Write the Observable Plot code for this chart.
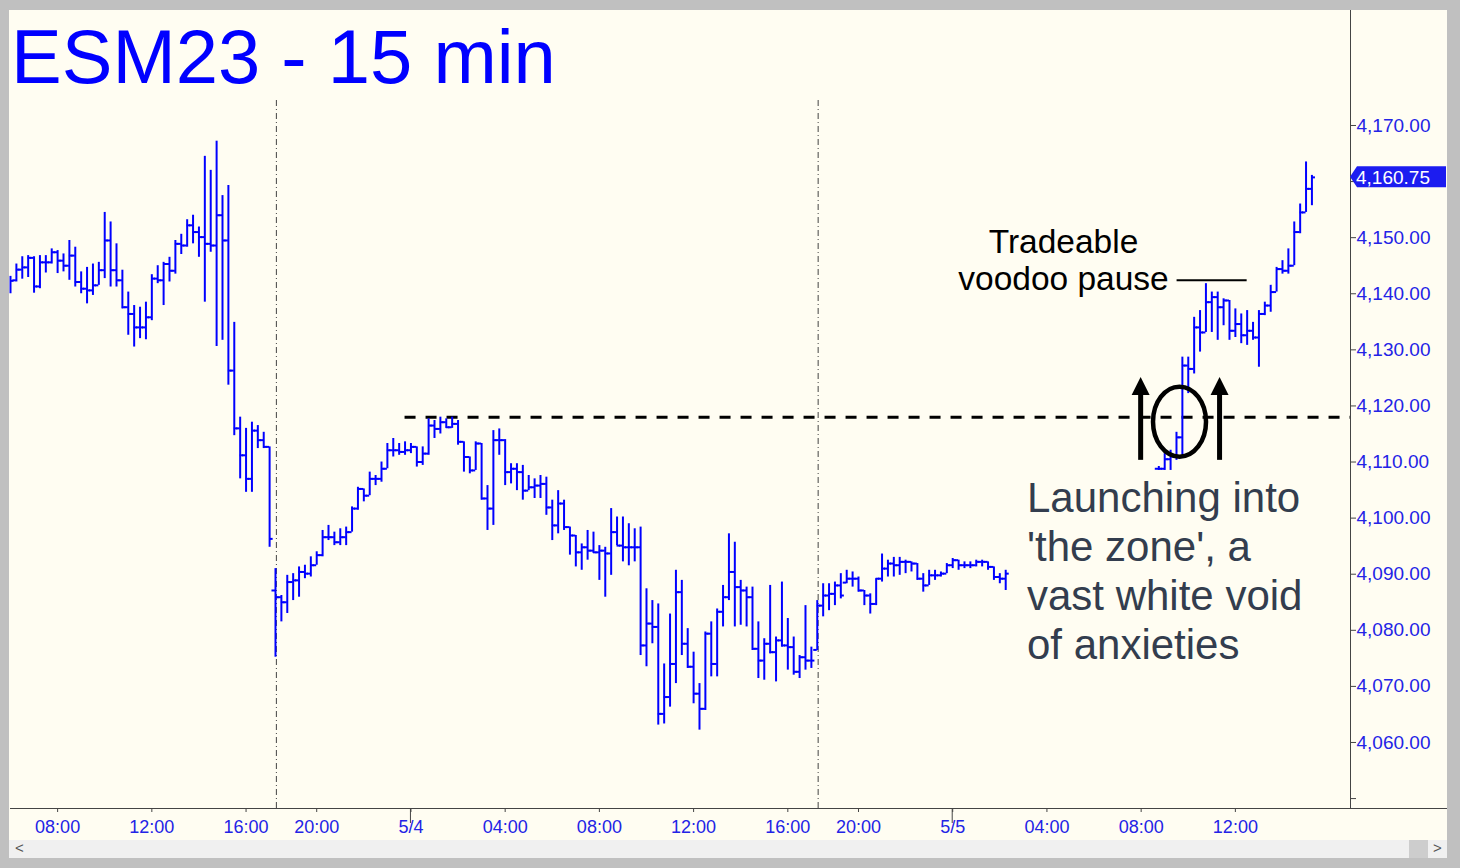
<!DOCTYPE html>
<html>
<head>
<meta charset="utf-8">
<script src="https://cdn.jsdelivr.net/npm/d3@7"></script>
<script src="https://cdn.jsdelivr.net/npm/@observablehq/plot@0.6"></script>
<style>
html, body { margin: 0; padding: 0; background: #c0c0c0; }
#wrap { position: relative; width: 1460px; height: 868px; overflow: hidden; background: #c0c0c0; font-family: "Liberation Sans", Arial, sans-serif; }
#cream { position: absolute; left: 9px; top: 10px; width: 1438px; height: 830px; background: #fffdf2; }
#chart { position: absolute; left: 0; top: 0; }
#scroll { position: absolute; left: 9px; top: 840px; width: 1438px; height: 18px; background: #f0f0f0; }
#scroll .l { position: absolute; left: 6px; top: -1px; font-size: 15px; color: #555; }
#scroll .r { position: absolute; left: 1424px; top: -1px; font-size: 15px; color: #555; }
#scroll .thumb { position: absolute; left: 1400px; top: 0; width: 19px; height: 18px; background: #cdcdcd; }
#chart g[aria-label^="x-axis"] text, #chart g[aria-label^="y-axis"] text { fill: #2323e6; }
#chart g[aria-label^="y-axis"] text { font-size: 19px; }
</style>
</head>
<body>
<div id="wrap">
  <div id="cream"></div>
  <div id="scroll"><span class="l">&lt;</span><div class="thumb"></div><span class="r">&gt;</span></div>
  <div id="chart"></div>
</div>
<script>
// ---- Data: ESM23, 15-minute OHLC bars ----
// x is a trading-time slot: one slot per 15 min, counted from 3 May 06:00,
// with the daily 17:00-18:00 break removed. Bars exist in two runs of slots.
const runStart = [0, 195];
const runLength = [170, 27];

const open = [
  null, 4142.4, 4144.3, 4144.7, 4146.4, 4141.3, 4145.6, 4145.6, 4147.4, 4145.9,
  4145.0, 4146.8, 4142.1, 4140.9, 4140.6, 4141.5, 4144.2, 4149.5, 4144.2, 4142.4,
  4137.6, 4136.4, 4134.0, 4134.0, 4135.8, 4142.7, 4142.4, 4145.3, 4144.1, 4148.9,
  4148.6, 4152.2, 4151.0, 4150.1, 4148.9, 4148.6, 4154.0, 4149.5, 4126.3, 4116.0,
  4111.2, 4107.0, 4115.6, 4113.9, 4112.7, 4087.1, 4085.9, 4085.0, 4088.6, 4088.9,
  4090.4, 4090.1, 4091.6, 4093.4, 4096.6, 4096.6, 4095.7, 4096.6, 4097.5, 4101.7,
  4105.2, 4104.0, 4107.0, 4107.0, 4108.8, 4112.1, 4112.1, 4111.8, 4112.1, 4112.7,
  4110.0, 4111.5, 4116.5, 4115.9, 4117.1, 4116.2, 4116.8, 4113.6, 4110.9, 4108.5,
  4113.3, 4103.5, 4101.7, 4113.9, 4113.9, 4108.2, 4108.8, 4108.2, 4104.9, 4105.5,
  4105.8, 4106.1, 4101.9, 4098.7, 4102.6, 4098.4, 4096.9, 4093.9, 4094.8, 4094.2,
  4093.9, 4094.2, 4093.7, 4097.5, 4095.1, 4094.8, 4094.8, 4094.8, 4077.3, 4081.2,
  4080.6, 4065.1, 4068.1, 4074.0, 4086.8, 4077.6, 4073.5, 4068.7, 4066.0, 4079.4,
  4074.0, 4083.3, 4085.9, 4090.4, 4087.7, 4087.1, 4085.9, 4076.7, 4074.6, 4077.6,
  4076.1, 4078.2, 4077.3, 4077.0, 4072.6, 4075.2, 4074.6, 4076.5, 4084.4, 4086.2,
  4086.5, 4088.0, 4088.5, 4089.2, 4089.2, 4087.1, 4086.2, 4084.7, 4089.2, 4091.0,
  4091.9, 4091.6, 4092.2, 4092.2, 4091.9, 4089.2, 4088.0, 4089.8, 4089.8, 4090.1,
  4091.6, 4092.5, 4091.6, 4091.6, 4091.6, 4092.2, 4092.2, 4091.3, 4089.5, 4089.2,
  4108.8, 4108.8, 4110.5, 4111.0, 4114.4, 4127.2, 4126.6, 4134.0, 4133.1, 4138.5,
  4139.4, 4137.6, 4138.8, 4133.4, 4134.6, 4132.6, 4133.4, 4132.2, 4136.4, 4137.9,
  4140.3, 4144.4, 4144.1, 4145.0, 4151.0, 4154.5, 4158.7
];
const high = [
  4143.1, 4145.3, 4146.6, 4146.8, 4146.6, 4146.8, 4146.8, 4148.0, 4147.7, 4147.1,
  4149.5, 4148.3, 4143.9, 4144.7, 4145.3, 4145.6, 4154.5, 4152.8, 4148.9, 4144.2,
  4140.3, 4137.9, 4137.6, 4138.5, 4143.4, 4145.0, 4145.6, 4146.5, 4149.5, 4150.6,
  4153.2, 4154.0, 4151.9, 4164.5, 4162.0, 4167.2, 4157.5, 4159.3, 4134.9, 4118.0,
  4116.0, 4117.1, 4116.5, 4115.3, 4112.7, 4091.0, 4086.2, 4089.8, 4090.1, 4091.3,
  4091.6, 4093.1, 4094.0, 4097.8, 4098.7, 4097.5, 4098.1, 4098.4, 4102.0, 4105.5,
  4105.2, 4108.2, 4107.6, 4110.0, 4113.3, 4114.2, 4113.3, 4113.6, 4113.3, 4112.7,
  4112.7, 4117.7, 4117.4, 4118.0, 4117.7, 4118.0, 4117.4, 4113.6, 4110.9, 4113.6,
  4113.3, 4105.8, 4115.6, 4115.9, 4114.0, 4109.7, 4109.7, 4109.4, 4107.6, 4107.0,
  4107.6, 4107.3, 4103.2, 4104.9, 4103.2, 4098.4, 4096.9, 4095.4, 4097.8, 4097.5,
  4095.1, 4094.8, 4101.7, 4100.2, 4100.2, 4099.0, 4098.1, 4098.4, 4087.4, 4085.3,
  4084.7, 4074.0, 4082.9, 4090.7, 4088.9, 4080.3, 4076.1, 4070.5, 4079.7, 4081.5,
  4083.8, 4088.0, 4097.2, 4095.7, 4088.9, 4087.7, 4087.7, 4081.5, 4078.5, 4088.0,
  4078.8, 4088.6, 4082.1, 4078.8, 4075.5, 4084.4, 4077.0, 4085.3, 4088.3, 4088.3,
  4088.6, 4090.1, 4090.7, 4090.4, 4089.5, 4087.1, 4086.5, 4089.2, 4093.6, 4092.5,
  4093.0, 4093.0, 4092.5, 4092.2, 4091.9, 4090.1, 4090.7, 4090.7, 4090.4, 4091.9,
  4092.8, 4092.5, 4092.2, 4092.2, 4092.5, 4092.5, 4092.2, 4091.3, 4090.1, 4090.7,
  4109.2, 4111.5, 4112.1, 4115.3, 4128.7, 4128.7, 4135.8, 4137.0, 4141.8, 4140.3,
  4140.3, 4139.1, 4138.8, 4137.3, 4136.4, 4137.0, 4134.9, 4137.0, 4138.5, 4141.5,
  4144.7, 4145.9, 4148.0, 4152.8, 4156.0, 4163.5, 4161.1
];
const low = [
  4140.0, 4142.1, 4142.6, 4142.9, 4140.1, 4140.9, 4143.7, 4145.3, 4143.6, 4143.9,
  4142.4, 4141.2, 4140.0, 4138.2, 4139.7, 4141.5, 4142.7, 4141.2, 4141.2, 4137.3,
  4132.6, 4130.5, 4132.0, 4131.8, 4135.2, 4141.8, 4137.9, 4142.1, 4143.5, 4147.0,
  4148.3, 4148.9, 4146.5, 4138.5, 4147.4, 4130.6, 4131.7, 4123.7, 4114.7, 4107.0,
  4104.6, 4104.6, 4112.4, 4112.4, 4094.8, 4075.2, 4081.5, 4083.0, 4085.3, 4085.9,
  4089.2, 4089.5, 4091.6, 4093.1, 4096.0, 4095.1, 4095.1, 4095.1, 4097.5, 4101.4,
  4102.9, 4104.0, 4105.8, 4106.4, 4108.8, 4110.9, 4111.2, 4111.2, 4111.5, 4109.1,
  4109.4, 4111.2, 4114.2, 4115.0, 4116.0, 4116.0, 4113.0, 4108.2, 4107.9, 4108.5,
  4103.2, 4097.8, 4098.7, 4111.2, 4105.8, 4106.1, 4104.9, 4103.2, 4104.9, 4103.5,
  4103.5, 4100.5, 4096.0, 4097.2, 4097.8, 4093.4, 4091.3, 4090.7, 4092.5, 4093.7,
  4088.9, 4085.9, 4089.8, 4095.1, 4092.2, 4091.5, 4092.2, 4075.5, 4073.5, 4077.6,
  4063.1, 4063.3, 4066.3, 4070.5, 4075.5, 4073.2, 4066.9, 4062.2, 4065.7, 4071.7,
  4071.7, 4080.6, 4085.3, 4080.6, 4080.9, 4080.6, 4076.4, 4071.4, 4071.1, 4075.8,
  4070.8, 4077.0, 4072.9, 4072.0, 4071.4, 4072.9, 4073.2, 4076.4, 4082.4, 4083.5,
  4084.4, 4085.6, 4088.3, 4087.7, 4086.8, 4084.4, 4082.9, 4084.4, 4088.6, 4089.5,
  4089.5, 4089.8, 4090.1, 4090.4, 4088.9, 4086.8, 4088.0, 4088.9, 4089.5, 4090.1,
  4091.0, 4090.7, 4091.0, 4091.0, 4091.3, 4091.3, 4090.7, 4088.9, 4088.3, 4087.1,
  4108.5, 4108.5, 4108.5, 4110.3, 4111.2, 4122.2, 4125.7, 4129.6, 4133.1, 4133.1,
  4131.7, 4134.3, 4131.7, 4132.2, 4131.1, 4130.8, 4131.7, 4126.9, 4136.1, 4136.7,
  4140.3, 4143.5, 4143.5, 4145.0, 4150.7, 4154.5, 4155.7
];
const close = [
  4142.3, 4144.3, 4144.7, 4146.4, 4141.3, 4145.6, 4145.6, 4147.4, 4145.9, 4145.0,
  4146.8, 4142.1, 4140.9, 4140.6, 4141.5, 4144.2, 4149.5, 4144.2, 4142.4, 4137.6,
  4136.4, 4134.0, 4134.0, 4135.8, 4142.7, 4142.4, 4145.3, 4144.1, 4148.9, 4148.6,
  4152.2, 4151.0, 4150.1, 4148.9, 4148.6, 4154.0, 4149.5, 4126.3, 4116.0, 4111.2,
  4107.0, 4115.6, 4113.9, 4112.7, 4096.3, 4085.9, 4085.0, 4088.6, 4088.9, 4090.4,
  4090.1, 4091.6, 4093.4, 4096.6, 4096.6, 4095.7, 4096.6, 4097.5, 4101.7, 4105.2,
  4104.0, 4107.0, 4107.0, 4108.8, 4112.1, 4112.1, 4111.8, 4112.1, 4112.7, 4110.0,
  4111.5, 4116.5, 4115.9, 4117.1, 4116.2, 4116.8, 4113.6, 4110.9, 4108.5, 4113.3,
  4103.5, 4101.7, 4113.9, 4113.9, 4108.2, 4108.8, 4108.2, 4104.9, 4105.5, 4105.8,
  4106.1, 4101.9, 4098.7, 4102.6, 4098.4, 4096.9, 4093.9, 4094.8, 4094.2, 4093.9,
  4094.2, 4093.7, 4097.5, 4095.1, 4094.8, 4094.8, 4094.8, 4077.3, 4081.2, 4080.6,
  4065.1, 4068.1, 4074.0, 4086.8, 4077.6, 4073.5, 4068.7, 4066.0, 4079.4, 4074.0,
  4083.3, 4085.9, 4090.4, 4087.7, 4087.1, 4085.9, 4076.7, 4074.6, 4077.6, 4076.1,
  4078.2, 4077.3, 4077.0, 4072.6, 4075.2, 4074.6, 4074.6, 4084.4, 4086.2, 4086.5,
  4088.0, 4086.2, 4089.2, 4089.2, 4087.1, 4086.2, 4084.7, 4089.2, 4091.0, 4091.9,
  4091.6, 4092.2, 4092.2, 4091.9, 4089.2, 4088.0, 4089.8, 4089.8, 4090.1, 4091.6,
  4092.5, 4091.6, 4091.6, 4091.6, 4092.2, 4092.2, 4091.3, 4089.5, 4089.2, 4090.1,
  4108.8, 4110.5, 4111.0, 4114.4, 4127.2, 4126.6, 4134.0, 4133.1, 4138.5, 4139.4,
  4137.6, 4138.8, 4133.4, 4134.6, 4132.6, 4133.4, 4132.2, 4136.4, 4137.9, 4140.3,
  4144.4, 4144.1, 4145.0, 4151.0, 4154.5, 4158.7, 4160.75
];

// x-axis ticks (trading slots) and their labels
const tickSlots  = [8, 24, 40, 52, 68, 84, 100, 116, 132, 144, 160, 176, 192, 208];
const tickLabels = ["08:00", "12:00", "16:00", "20:00", "5/4", "04:00", "08:00", "12:00", "16:00", "20:00", "5/5", "04:00", "08:00", "12:00"];
const dayTickSlots = [68, 160];
// y-axis ticks (4050 and 4160 carry no visible label: edge / hidden under price tag)
const yTicks = [4050, 4060, 4070, 4080, 4090, 4100, 4110, 4120, 4130, 4140, 4150, 4160, 4170];
const yUnlabeled = [4050, 4160];
// session starts (first slot after the daily break)
const sessionStarts = [45, 137];

// annotation values
const zoneLevel = 4118;          // dashed "zone" line
const zoneFromSlot = 67;
const pauseLevel = 4142.4;       // "voodoo pause" line
const pauseSlots = [198.1, 210];
const arrowSlots = [192.0, 205.4];
const arrowFrom = 4110.3, arrowTo = 4124.9;
const ringCenter = [198.6, 4117.1], ringRadius = [4.5, 6.24];

const xDomain = [0, 227.55];
const yDomain = [4048.23, 4190.5];

// ---- build table ----
const slots = runStart.flatMap((s, i) => d3.range(s, s + runLength[i]));
const bars = slots.map((slot, i) => ({slot, open: open[i], high: high[i], low: low[i], close: close[i]}));
const labelOf = new Map(tickSlots.map((s, i) => [s, tickLabels[i]]));
const fmt = d3.format(",.2f");
const blue = "#0000ff";

const chart = Plot.plot({
  width: 1460,
  height: 868,
  marginLeft: 10,
  marginRight: 110,
  marginTop: 10,
  marginBottom: 60,
  style: {background: "transparent", fontFamily: "'Liberation Sans', Arial, sans-serif", fontSize: "18px", color: "#444", overflow: "visible"},
  x: {domain: xDomain, axis: "bottom", ticks: tickSlots, tickFormat: d => labelOf.get(d), tickSize: 4, tickPadding: 8, label: null},
  y: {domain: yDomain, axis: "right", ticks: yTicks, tickFormat: d => yUnlabeled.includes(d) ? "" : fmt(d), tickSize: 5, tickPadding: 1, label: null, line: true},
  marks: [
    Plot.ruleX(sessionStarts, {x: d => d + 0.15, y1: yDomain[0], y2: 4174.8, stroke: "#444", strokeWidth: 1, strokeDasharray: "6,3,1,3"}),
    Plot.ruleY([zoneLevel], {x1: zoneFromSlot, x2: xDomain[1], stroke: "#000", strokeWidth: 3, strokeDasharray: "11,10"}),
    Plot.ruleY([pauseLevel], {x1: pauseSlots[0], x2: pauseSlots[1], stroke: "#000", strokeWidth: 2}),
    Plot.ruleX(bars, {x: "slot", y1: "low", y2: "high", stroke: blue, strokeWidth: 2}),
    Plot.ruleY(bars.filter(d => d.open != null), {y: "open", x1: d => d.slot - 0.6, x2: "slot", stroke: blue, strokeWidth: 2}),
    Plot.ruleY(bars, {y: "close", x1: "slot", x2: d => d.slot + 0.6, stroke: blue, strokeWidth: 2})
  ]
});
document.getElementById("chart").appendChild(chart);

// ---- annotations using the plot's scales ----
const sx = chart.scale("x"), sy = chart.scale("y");
const X = sx.apply ? v => sx.apply(v) : d3.scaleLinear(sx.domain, sx.range);
const Y = sy.apply ? v => sy.apply(v) : d3.scaleLinear(sy.domain, sy.range);
const svg = d3.select(chart);
const g = svg.append("g").attr("font-family", "'Liberation Sans', Arial, sans-serif").attr("text-anchor", "start");

// bottom axis baseline across the whole pane
g.append("line").attr("x1", 10).attr("x2", 1447).attr("y1", Y(yDomain[0]) + 0.5).attr("y2", Y(yDomain[0]) + 0.5)
  .attr("stroke", "#444").attr("stroke-width", 1);
dayTickSlots.forEach(s => g.append("line").attr("x1", X(s)).attr("x2", X(s)).attr("y1", Y(yDomain[0])).attr("y2", Y(yDomain[0]) + 15).attr("stroke", "#444"));

// title
g.append("text").attr("x", 11).attr("y", 83).attr("text-anchor", "start").attr("font-size", 76).attr("fill", blue).text("ESM23 - 15 min");

// last price tag
const lastClose = close[close.length - 1];
const yc = Y(lastClose), xr = X(xDomain[1]);
g.append("path").attr("d", `M${xr},${yc} L${xr + 7},${yc - 10.5} L${xr + 96},${yc - 10.5} L${xr + 96},${yc + 10.5} L${xr + 7},${yc + 10.5} Z`).attr("fill", "#1c1cf0");
g.append("text").attr("x", xr + 6).attr("y", yc + 6.8).attr("text-anchor", "start").attr("font-size", 19).attr("fill", "#fff").text(fmt(lastClose));

// "Tradeable voodoo pause"
g.append("text").attr("x", X(178.9)).attr("y", Y(4147.2)).attr("text-anchor", "middle").attr("font-size", 33.5).attr("fill", "#000").text("Tradeable");
g.append("text").attr("x", X(178.9)).attr("y", Y(4140.6)).attr("text-anchor", "middle").attr("font-size", 33.5).attr("fill", "#000").text("voodoo pause");

// "Launching into the zone"
const lines = ["Launching into", "'the zone', a", "vast white void", "of anxieties"];
const lineBase = [4101.0, 4092.3, 4083.5, 4074.8];
lines.forEach((t, i) => g.append("text").attr("x", X(172.7)).attr("y", Y(lineBase[i])).attr("text-anchor", "start").attr("font-size", 42).attr("fill", "#333d4e").text(t));

// arrows
arrowSlots.forEach(s => {
  const x = X(s), yb = Y(arrowFrom), yt = Y(arrowTo);
  g.append("line").attr("x1", x).attr("x2", x).attr("y1", yb).attr("y2", yt + 12).attr("stroke", "#000").attr("stroke-width", 5);
  g.append("path").attr("d", `M${x},${yt - 1} L${x + 9},${yt + 17} L${x - 9},${yt + 17} Z`).attr("fill", "#000");
});
// ring
g.append("ellipse").attr("cx", X(ringCenter[0])).attr("cy", Y(ringCenter[1]))
  .attr("rx", X(ringCenter[0] + ringRadius[0]) - X(ringCenter[0]))
  .attr("ry", Y(ringCenter[1] - ringRadius[1]) - Y(ringCenter[1]))
  .attr("fill", "none").attr("stroke", "#000").attr("stroke-width", 4.5);
</script>
</body>
</html>
